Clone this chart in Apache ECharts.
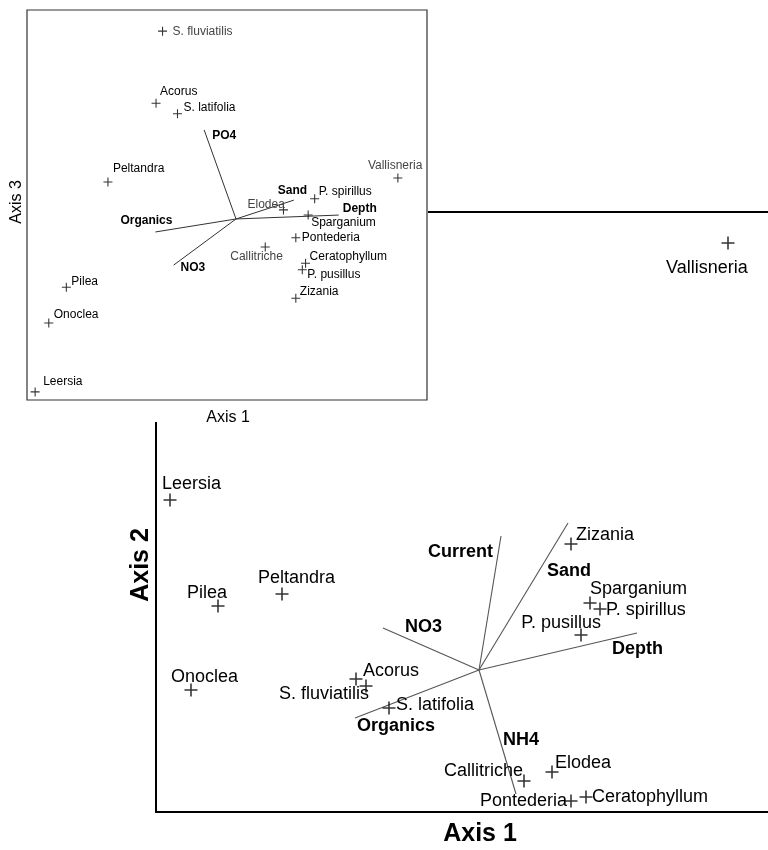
<!DOCTYPE html>
<html>
<head>
<meta charset="utf-8">
<script src="https://cdn.jsdelivr.net/npm/echarts@6/dist/echarts.min.js"></script>
<style>
html,body{margin:0;padding:0;background:#fff;}
#chart{width:768px;height:850px;}
</style>
</head>
<body>
<div id="chart"></div>
<script>
// ---- data (CCA scores) ----
const species = ['Leersia','Pilea','Peltandra','Onoclea','Acorus','S. fluviatilis','S. latifolia','Zizania','Sparganium','P. spirillus','P. pusillus','Callitriche','Elodea','Pontederia','Ceratophyllum','Vallisneria'];
const speciesAxis1 = [-3.09,-2.61,-1.97,-2.88,-1.23,-1.13,-0.90,0.92,1.11,1.21,1.02,0.45,0.73,0.92,1.07,2.49];
const speciesAxis2 = [1.70,0.64,0.76,-0.20,-0.09,-0.16,-0.38,1.26,0.67,0.61,0.35,-1.11,-1.02,-1.31,-1.27,4.27];
const speciesAxis3 = [-2.66,-1.05,0.57,-1.60,1.78,2.89,1.62,-1.22,0.06,0.31,-0.78,-0.43,0.14,-0.29,-0.68,0.63];
const envVars  = ['Organics','NO3','Current','Sand','Depth','NH4','PO4'];
const envAxis1 = [-1.24,-0.96,0.22,0.89,1.58,0.37,-0.49];
const envAxis2 = [-0.48,0.42,1.34,1.47,0.37,-1.24,null];
const envAxis3 = [-0.20,-0.71,null,0.29,0.06,null,1.37];
const axisTitles = {main:['Axis 1','Axis 2'], inset:['Axis 1','Axis 3']};

// ---- label placement (style, not data): [align, dx, dy] ----
const mainSpLab = {
  'Leersia':['left',-8,-16],'Pilea':['left',-31,-13],'Peltandra':['left',-24,-16],'Onoclea':['left',-20,-13],
  'Acorus':['left',7,-8],'S. fluviatilis':['right',3,8],'S. latifolia':['left',7,-3],'Zizania':['left',5,-9],
  'Sparganium':['left',0,-14],'P. spirillus':['left',6,1],'P. pusillus':['right',20,-12],'Callitriche':['right',-1,-10],
  'Elodea':['left',3,-9],'Pontederia':['right',-4,0],'Ceratophyllum':['left',6,0],'Vallisneria':['left',-62,25]
};
const mainEnvLab = {'Organics':['left',2,8],'NO3':['left',22,-1],'Current':['right',-8,16],'Sand':['left',-21,48],'Depth':['left',-25,16],'NH4':['left',-13,-54]};
const insetSpLab = {
  'S. fluviatilis':['left',10,1],'Acorus':['left',4,-12],'S. latifolia':['left',6,-6],'Peltandra':['left',5,-13],
  'Vallisneria':['left',-30,-12],'P. spirillus':['left',4,-7],'Elodea':['left',-36,-5],'Sparganium':['left',3,8],
  'Pontederia':['left',6,0],'Callitriche':['left',-35,10],'Ceratophyllum':['left',4,-6],'P. pusillus':['left',5,5],
  'Zizania':['left',4,-7],'Pilea':['left',5,-6],'Onoclea':['left',5,-8],'Leersia':['left',8,-10]
};
const insetEnvLab = {'PO4':['left',8,6],'Sand':['left',-16,-9],'Depth':['left',4,-6],'Organics':['left',-35,-11],'NO3':['left',7,3]};
const lightInset = {'Elodea':1,'Callitriche':1,'Vallisneria':1,'S. fluviatilis':1};

const FONT = 'Liberation Sans, Arial, sans-serif';
const PLUS = 'path://M4.4,0H5.6V10H4.4Z M0,4.4H10V5.6H0Z';

function spData(ys, lab, size, light){
  const out = [];
  species.forEach((n,i)=>{
    if (ys[i] == null) return;
    const l = lab[n];
    out.push({name:n, value:[speciesAxis1[i], ys[i]],
      label:{position:[size/2 + l[1], size/2 + l[2]], align:l[0], verticalAlign:'middle',
             color: (light && light[n]) ? '#444' : '#000'}});
  });
  return out;
}
function envLines(ys){
  const out = [];
  envVars.forEach((n,i)=>{ if (ys[i] != null) out.push({coords:[[0,0],[envAxis1[i], ys[i]]]}); });
  return out;
}
function envLabels(ys, lab, size){
  const out = [];
  envVars.forEach((n,i)=>{
    if (ys[i] == null) return;
    const l = lab[n];
    out.push({name:n, value:[envAxis1[i], ys[i]],
      label:{position:[size/2 + l[1], size/2 + l[2]], align:l[0], verticalAlign:'middle'}});
  });
  return out;
}

const chart = echarts.init(document.getElementById('chart'), null, {renderer:'canvas'});
const hiddenAxis = {show:false, type:'value'};
const baseLabel = {show:true, formatter:'{b}', fontFamily:FONT, color:'#000', textBorderWidth:0, opacity:1};
const option = {
  animation:false,
  backgroundColor:'#fff',
  grid:[
    {left:156, top:212, width:612, height:600, show:false, zlevel:0},
    {left:27, top:10, width:400, height:390, show:true, borderColor:'#333', borderWidth:1.2, backgroundColor:'#fff', zlevel:2}
  ],
  xAxis:[
    {type:'value', gridIndex:0, position:'bottom', min:-3.23, max:2.89,
     axisLine:{show:true, onZero:false, lineStyle:{color:'#000', width:2}}, axisTick:{show:false}, axisLabel:{show:false}, splitLine:{show:false}, zlevel:0},
    {type:'value', gridIndex:0, position:'top', min:-3.23, max:2.89,
     axisLine:{show:true, onZero:false, lineStyle:{color:'#000', width:2}}, axisTick:{show:false}, axisLabel:{show:false}, splitLine:{show:false}, zlevel:0},
    Object.assign({gridIndex:1, min:-3.215, max:2.938, zlevel:2}, hiddenAxis)
  ],
  yAxis:[
    {type:'value', gridIndex:0, position:'left', min:-1.42, max:4.58,
     axisLine:{show:true, onZero:false, lineStyle:{color:'#000', width:2}}, axisTick:{show:false}, axisLabel:{show:false}, splitLine:{show:false}, zlevel:0},
    Object.assign({gridIndex:1, min:-2.785, max:3.215, zlevel:2}, hiddenAxis)
  ],
  graphic:{elements:[
    {type:'rect', zlevel:1, z:0, shape:{x:0, y:0, width:428, height:422}, style:{fill:'#fff'}},
    {type:'text', zlevel:2, x:228, y:418, style:{text:axisTitles.inset[0], font:'16px '+FONT, fill:'#000', align:'center', verticalAlign:'middle'}},
    {type:'text', zlevel:2, x:17, y:202, rotation:Math.PI/2, style:{text:axisTitles.inset[1], font:'16px '+FONT, fill:'#000', align:'center', verticalAlign:'middle'}},
    {type:'text', zlevel:0, x:480, y:834, style:{text:axisTitles.main[0], font:'bold 25px '+FONT, fill:'#000', align:'center', verticalAlign:'middle'}},
    {type:'text', zlevel:0, x:141, y:565, rotation:Math.PI/2, style:{text:axisTitles.main[1], font:'bold 25px '+FONT, fill:'#000', align:'center', verticalAlign:'middle'}}
  ]},
  series:[
    // main plot
    {type:'lines', coordinateSystem:'cartesian2d', xAxisIndex:0, yAxisIndex:0, zlevel:0,
     lineStyle:{color:'#555', width:1.1, opacity:1}, data:envLines(envAxis2), silent:true},
    {type:'scatter', xAxisIndex:0, yAxisIndex:0, zlevel:0, symbol:PLUS, symbolSize:13,
     itemStyle:{color:'#000'}, clip:false, silent:true,
     label:Object.assign({fontSize:18}, baseLabel),
     data:spData(speciesAxis2, mainSpLab, 13)},
    {type:'scatter', xAxisIndex:0, yAxisIndex:0, zlevel:0, symbolSize:1, itemStyle:{color:'rgba(0,0,0,0)'}, clip:false, silent:true,
     label:Object.assign({fontSize:18, fontWeight:'bold'}, baseLabel),
     data:envLabels(envAxis2, mainEnvLab, 1)},
    // inset plot
    {type:'lines', coordinateSystem:'cartesian2d', xAxisIndex:2, yAxisIndex:1, zlevel:2,
     lineStyle:{color:'#333', width:1, opacity:1}, data:envLines(envAxis3), silent:true},
    {type:'scatter', xAxisIndex:2, yAxisIndex:1, zlevel:2, symbol:PLUS, symbolSize:9,
     itemStyle:{color:'#000'}, clip:false, silent:true,
     label:Object.assign({fontSize:12}, baseLabel),
     data:spData(speciesAxis3, insetSpLab, 9, lightInset)},
    {type:'scatter', xAxisIndex:2, yAxisIndex:1, zlevel:2, symbolSize:1, itemStyle:{color:'rgba(0,0,0,0)'}, clip:false, silent:true,
     label:Object.assign({fontSize:12, fontWeight:'bold'}, baseLabel),
     data:envLabels(envAxis3, insetEnvLab, 1)}
  ]
};
chart.setOption(option);
</script>
</body>
</html>
